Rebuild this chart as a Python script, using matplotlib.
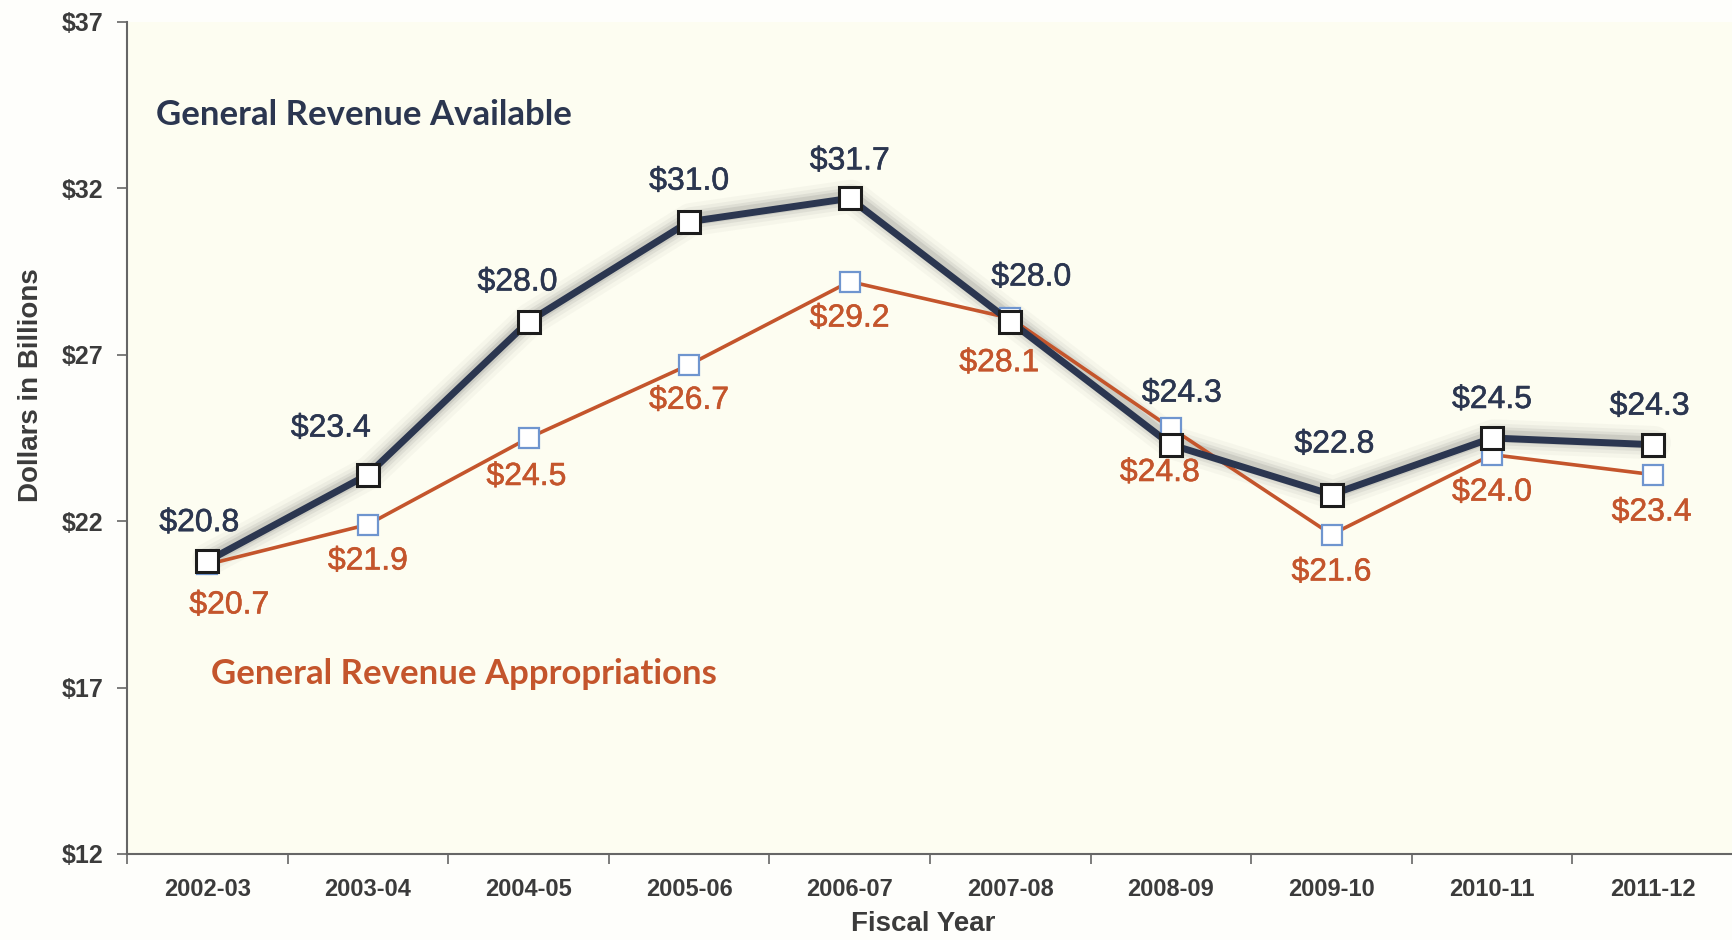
import numpy as np
import matplotlib.pyplot as plt
import matplotlib.patheffects as pe

years = ["2002-03", "2003-04", "2004-05", "2005-06", "2006-07",
         "2007-08", "2008-09", "2009-10", "2010-11", "2011-12"]
available = [20.8, 23.4, 28.0, 31.0, 31.7, 28.0, 24.3, 22.8, 24.5, 24.3]
appropriations = [20.7, 21.9, 24.5, 26.7, 29.2, 28.1, 24.8, 21.6, 24.0, 23.4]
y_ticks = [12, 17, 22, 27, 32, 37]

# label nudges in pixels, (dx, dy) from each point
avail_offsets = [(-8, 38), (-37, 46), (-11, 39), (0, 40), (0, 37),
                 (21, 44), (11, 51), (3, 50), (0, 38), (-3, 38)]
approp_offsets = [(22, -41), (0, -37), (-2, -39), (0, -36), (0, -37),
                  (-11, -45), (-11, -45), (0, -38), (0, -38), (-1, -38)]

NAVY = "#2b3650"
ORANGE = "#c4552c"
BLUE_EDGE = "#6f95cf"
TEXT = "#3b3b3b"


def main():
    fig = plt.figure(figsize=(17.33, 9.40), dpi=100, facecolor="#fefefb")
    ax = fig.add_axes([0.0733, 0.0915, 0.9267, 0.8851])
    ax.set_facecolor("#fdfdf1")

    x = np.arange(len(years))

    # soft shadow around the available line
    for lw, a in [(24, 0.04), (18, 0.06), (13, 0.09), (9, 0.13)]:
        ax.plot(x + 0.01, np.array(available) + 0.06, color="#555555",
                lw=lw, alpha=a, solid_capstyle="round",
                solid_joinstyle="round", zorder=2)

    ax.plot(x, appropriations, color=ORANGE, lw=2.6, marker="s", ms=15,
            mfc="white", mec=BLUE_EDGE, mew=1.6, zorder=3)
    ax.plot(x, available, color=NAVY, lw=5, marker="s", ms=16,
            mfc="white", mec="#1c1c1c", mew=2.2, zorder=4,
            solid_joinstyle="round")

    for vals, offs, col in [(available, avail_offsets, NAVY),
                            (appropriations, approp_offsets, ORANGE)]:
        for xi, v, (dx, dy) in zip(x, vals, offs):
            ax.annotate(f"${v:.1f}", (xi, v), xytext=(dx, dy),
                        textcoords="offset pixels", ha="center", va="center",
                        fontsize=23, color=col, family="Liberation Sans",
                        zorder=6,
                        path_effects=[pe.withStroke(linewidth=0.4,
                                                    foreground=col)])

    ax.text(0.018, 0.888, "General Revenue Available", transform=ax.transAxes,
            fontsize=25, fontweight="bold", color=NAVY, family="Lato",
            va="center", ha="left")
    ax.text(0.052, 0.216, "General Revenue Appropriations",
            transform=ax.transAxes, fontsize=25, fontweight="bold",
            color=ORANGE, family="Lato", va="center", ha="left")

    ax.set_xlim(-0.5, len(years) - 0.5)
    ax.set_ylim(12, 37)
    ax.set_yticks(y_ticks)
    ax.set_yticklabels([f"${t}" for t in y_ticks])
    ax.set_xticks(x)
    ax.set_xticklabels(years)
    ax.set_xticks(np.arange(-0.5, len(years)), minor=True)

    ax.tick_params(axis="x", which="major", length=0, pad=17)
    ax.tick_params(axis="x", which="minor", length=7, width=1.2,
                   color="#666666", direction="out")
    ax.tick_params(axis="y", length=7, width=1.2, color="#666666", pad=10)
    for lab in ax.get_xticklabels():
        lab.set_fontsize(17)
    for lab in ax.get_yticklabels():
        lab.set_fontsize(18)
    for lab in ax.get_xticklabels() + ax.get_yticklabels():
        lab.set_fontweight("bold")
        lab.set_color(TEXT)
        lab.set_family("Liberation Sans")

    for side in ["top", "right"]:
        ax.spines[side].set_visible(False)
    for side in ["left", "bottom"]:
        ax.spines[side].set_color("#666666")
        ax.spines[side].set_linewidth(1.5)

    ax.set_xlabel("Fiscal Year", fontsize=20, fontweight="bold", color=TEXT,
                  family="Liberation Sans")
    ax.xaxis.set_label_coords(0.496, -0.068)
    ax.set_ylabel("Dollars in Billions", fontsize=20, fontweight="bold",
                  color=TEXT, family="Liberation Sans")
    ax.yaxis.set_label_coords(-0.052, 0.564)

    fig.savefig("out.png", dpi=100, facecolor=fig.get_facecolor())


if __name__ == '__main__':
    main()
